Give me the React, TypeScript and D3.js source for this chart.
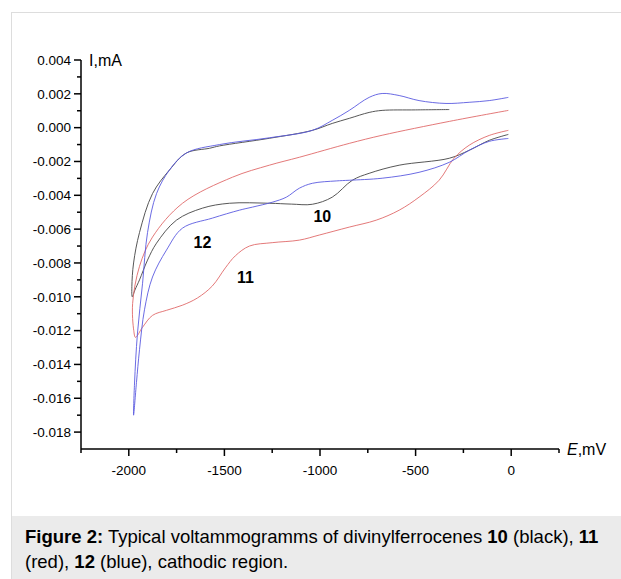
import React from "react";
import * as d3 from "d3";

// ---- data (E in mV, I in mA) ----
const xMajorTicks = [-2000, -1500, -1000, -500, 0];
const xMinorTicks = [-2250, -1750, -1250, -750, -250, 250];
const yMajorTicks = [-0.018, -0.016, -0.014, -0.012, -0.01, -0.008, -0.006, -0.004, -0.002, 0, 0.002, 0.004];
const yMinorTicks = [-0.017, -0.015, -0.013, -0.011, -0.009, -0.007, -0.005, -0.003, -0.001, 0.001, 0.003];

// compound 10 (black): cathodic scan from ~0 mV to -2000 mV, then reverse
const curve10: [number, number][] = [
  [-15, -0.0004], [-115, -0.00075], [-220, -0.00134], [-324, -0.00181], [-586, -0.00222],
  [-743, -0.0027], [-831, -0.00311], [-936, -0.00411], [-1040, -0.00453], [-1150, -0.00452],
  [-1265, -0.00447], [-1474, -0.00447], [-1615, -0.00476], [-1751, -0.00547], [-1855, -0.00683],
  [-1902, -0.00783], [-1944, -0.009], [-1968, -0.0096], [-1982, -0.01],
  [-1984, -0.0094], [-1975, -0.008], [-1944, -0.0062], [-1876, -0.0039], [-1787, -0.0025],
  [-1699, -0.0015], [-1578, -0.00122], [-1526, -0.00108], [-1265, -0.00063], [-1040, -0.00016],
  [-936, 0.00025], [-847, 0.00055], [-743, 0.0009], [-675, 0.00102], [-500, 0.00105], [-324, 0.00107],
];

// compound 11 (red)
const curve11: [number, number][] = [
  [-15, -0.00016], [-115, -0.00046], [-220, -0.00104], [-299, -0.00181], [-377, -0.00311],
  [-482, -0.00411], [-586, -0.00488], [-706, -0.00547], [-847, -0.00588], [-1004, -0.00635],
  [-1108, -0.00665], [-1250, -0.0068], [-1369, -0.007], [-1443, -0.00758], [-1495, -0.00829],
  [-1563, -0.00936], [-1641, -0.01007], [-1720, -0.0105], [-1803, -0.0108], [-1876, -0.0111],
  [-1928, -0.0118], [-1965, -0.0124],
  [-1974, -0.012], [-1980, -0.0104], [-1944, -0.0082], [-1876, -0.00647], [-1719, -0.00447],
  [-1458, -0.00293], [-1265, -0.00222], [-1108, -0.00175], [-847, -0.00093], [-675, -0.00045],
  [-324, 0.00037], [-15, 0.00102],
];

// compound 12 (blue)
const curve12: [number, number][] = [
  [-15, -0.00064], [-115, -0.00081], [-220, -0.00134], [-324, -0.00205], [-482, -0.00264],
  [-675, -0.00299], [-847, -0.00311], [-915, -0.00315], [-1040, -0.00329], [-1108, -0.00358],
  [-1176, -0.00411], [-1250, -0.00441], [-1354, -0.0047], [-1422, -0.00488], [-1563, -0.00535],
  [-1719, -0.00594], [-1803, -0.00724], [-1876, -0.00883], [-1918, -0.01077], [-1944, -0.01313],
  [-1960, -0.01508], [-1975, -0.017],
  [-1970, -0.0151], [-1955, -0.0122], [-1928, -0.0092], [-1902, -0.0062], [-1855, -0.0039],
  [-1787, -0.0025], [-1699, -0.0015], [-1526, -0.001], [-1265, -0.0006], [-1040, -0.00016],
  [-936, 0.00043], [-847, 0.00102], [-743, 0.00179], [-675, 0.00202], [-586, 0.0019],
  [-482, 0.0016], [-341, 0.00143], [-220, 0.0015], [-115, 0.0016], [-15, 0.00179],
];

const seriesNames = ["10", "11", "12"];
const seriesColors = ["#444444", "#e06a6a", "#5a5ae0"];
const seriesData = [curve10, curve11, curve12];

// curve labels, anchored in data coordinates
const labelE = [-988, -1390, -1615];
const labelI = [-0.00559, -0.00919, -0.00712];

export default function App() {
  const x = d3.scaleLinear().domain([-2250, 250]).range([81, 559]);
  const y = d3.scaleLinear().domain([-0.019, 0.004]).range([449, 60]);
  const line = d3
    .line<[number, number]>()
    .x((d) => x(d[0]))
    .y((d) => y(d[1]))
    .curve(d3.curveCatmullRom.alpha(0.5));

  const font = "'Liberation Sans', Arial, sans-serif";
  const x0 = x.range()[0];
  const y0 = y.range()[0];

  return (
    <svg
      width={621}
      height={579}
      style={{ position: "absolute", left: 0, top: 0, background: "#fff" }}
      fontFamily={font}
    >
      {/* frame */}
      <line x1={11} x2={621} y1={12.5} y2={12.5} stroke="#dddddd" />
      <line x1={11.5} x2={11.5} y1={12} y2={579} stroke="#dddddd" />
      <rect x={12} y={516} width={609} height={63} fill="#ebebeb" />

      {/* curves */}
      {seriesData.map((d, i) => (
        <path key={seriesNames[i]} d={line(d) || ""} fill="none" stroke={seriesColors[i]} strokeWidth={0.9} />
      ))}

      {/* axes */}
      <line x1={x0} x2={x0} y1={y.range()[1]} y2={y0} stroke="#000" strokeWidth={1.5} />
      <line x1={x0} x2={x.range()[1]} y1={y0} y2={y0} stroke="#000" strokeWidth={1.5} />
      {yMajorTicks.map((t) => (
        <g key={"ym" + t}>
          <line x1={x0 - 7} x2={x0} y1={y(t)} y2={y(t)} stroke="#000" strokeWidth={1.5} />
          <text x={x0 - 10} y={y(t)} dy="0.35em" textAnchor="end" fontSize={13.5}>
            {d3.format(".3f")(t).replace("−", "-")}
          </text>
        </g>
      ))}
      {yMinorTicks.map((t) => (
        <line key={"yn" + t} x1={x0 - 4} x2={x0} y1={y(t)} y2={y(t)} stroke="#000" strokeWidth={1.5} />
      ))}
      {xMajorTicks.map((t) => (
        <g key={"xm" + t}>
          <line x1={x(t)} x2={x(t)} y1={y0} y2={y0 + 7} stroke="#000" strokeWidth={1.5} />
          <text x={x(t)} y={y0 + 26} textAnchor="middle" fontSize={13.5}>
            {String(t)}
          </text>
        </g>
      ))}
      {xMinorTicks.map((t) => (
        <line key={"xn" + t} x1={x(t)} x2={x(t)} y1={y0} y2={y0 + 4} stroke="#000" strokeWidth={1.5} />
      ))}

      {/* axis titles */}
      <text x={89} y={66} fontSize={16}>I,mA</text>
      <text x={x.range()[1] + 8} y={y0 + 6} fontSize={16}>
        <tspan fontStyle="italic">E</tspan>,mV
      </text>

      {/* curve labels */}
      {seriesNames.map((n, i) => (
        <text key={"lab" + n} x={x(labelE[i])} y={y(labelI[i])} textAnchor="middle" fontSize={16} fontWeight="bold">
          {n}
        </text>
      ))}

      {/* caption */}
      <text x={25} y={543} fontSize={18.5}>
        <tspan fontWeight="bold">Figure 2:</tspan> Typical voltammogramms of divinylferrocenes{" "}
        <tspan fontWeight="bold">10</tspan> (black), <tspan fontWeight="bold">11</tspan>
      </text>
      <text x={25} y={568} fontSize={18.5}>
        (red), <tspan fontWeight="bold">12</tspan> (blue), cathodic region.
      </text>
    </svg>
  );
}
